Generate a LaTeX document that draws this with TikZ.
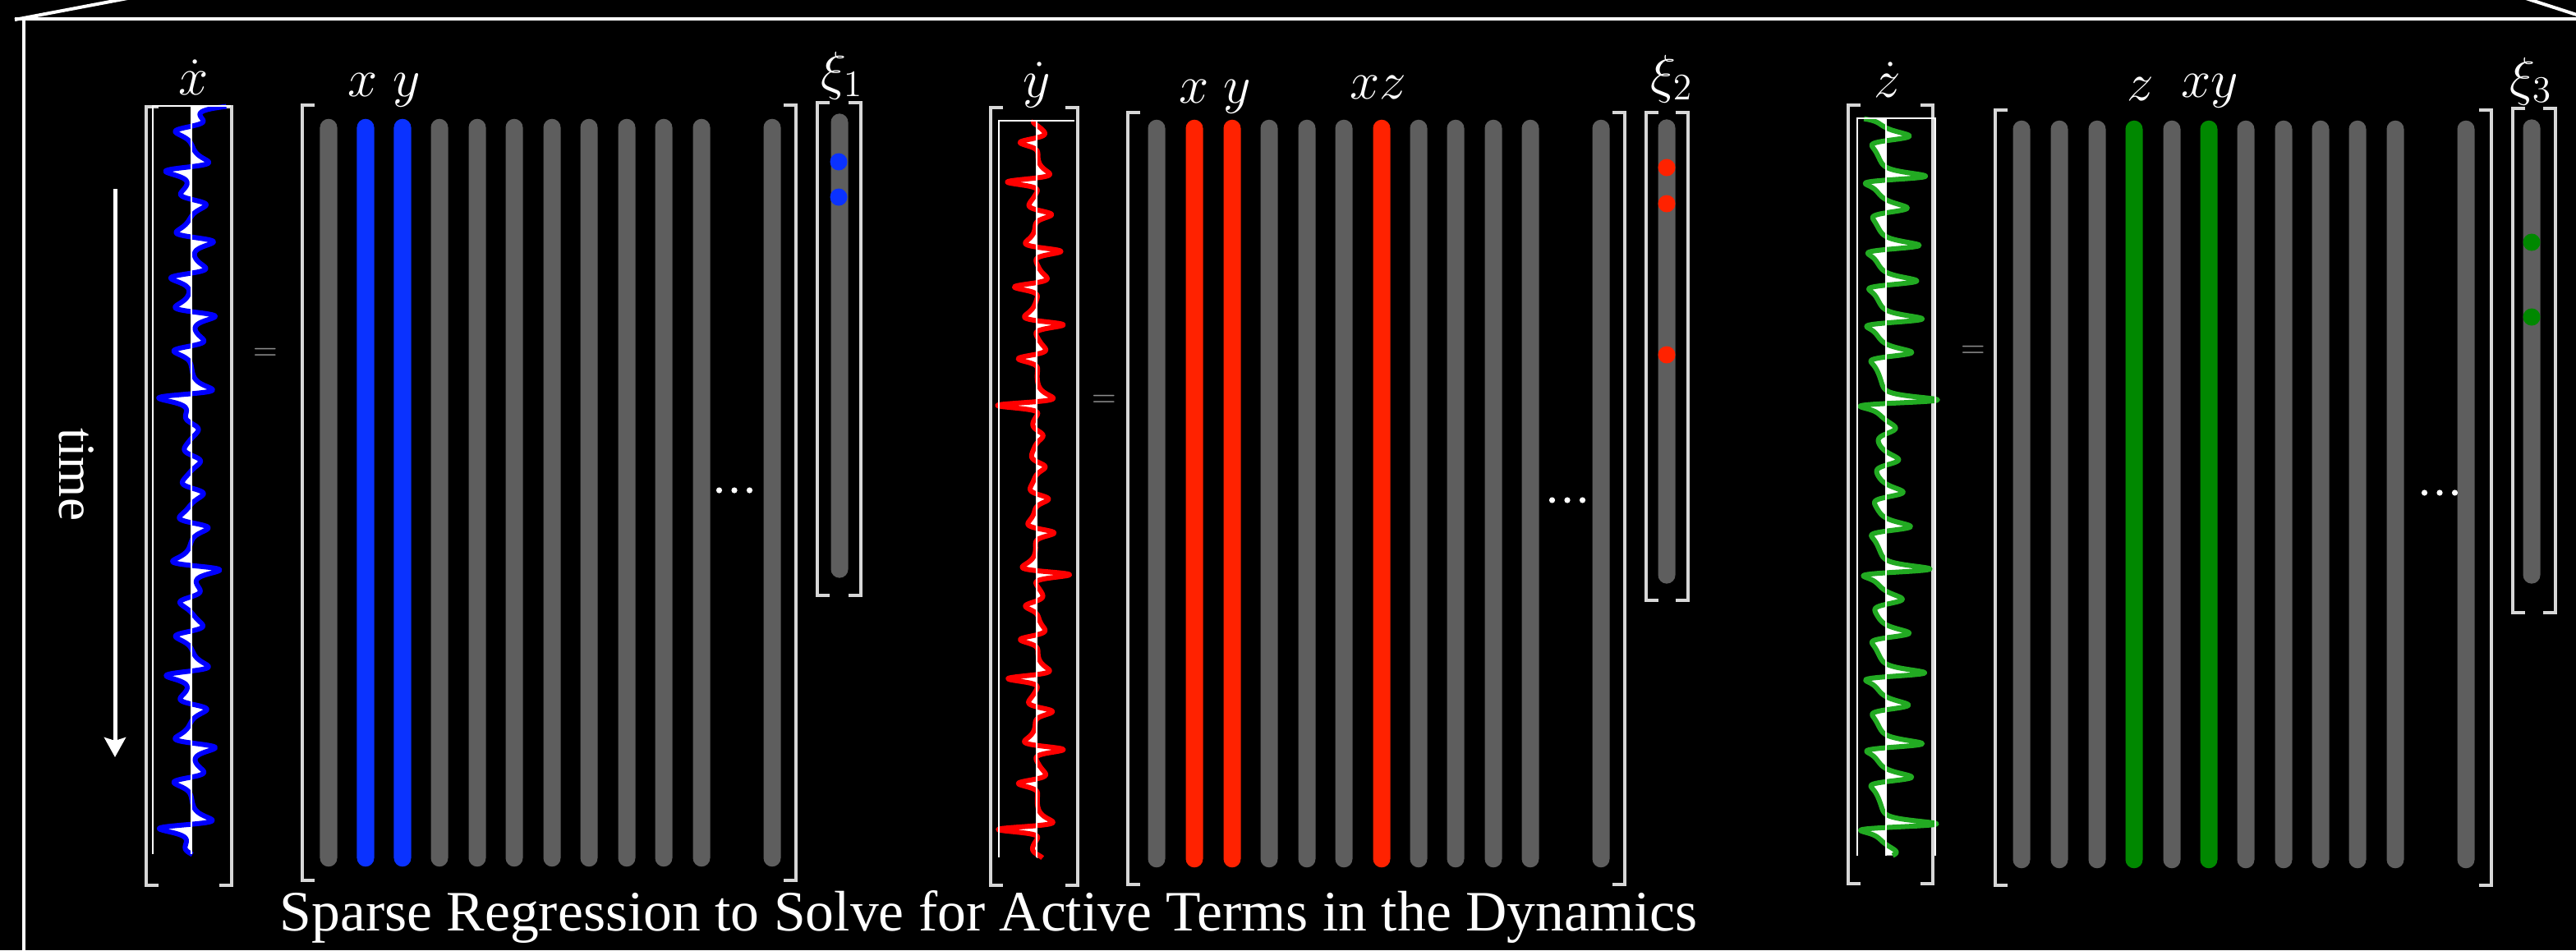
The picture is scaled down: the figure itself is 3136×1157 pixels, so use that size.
\documentclass[tikz,border=0pt]{standalone}
\usepackage{fix-cm}
\usepackage{amsmath}
\usepackage{amssymb}
\usepackage{fontspec}
\usepackage{tikz}
\usepackage{color}
\usetikzlibrary{calc,arrows.meta}
\newfontfamily\tikzSerif{Liberation Serif}
\definecolor{termgray}{RGB}{94,94,94}
\definecolor{termblue}{RGB}{10,50,255}
\definecolor{termred}{RGB}{255,34,0}
\definecolor{termgreen}{RGB}{0,136,0}
\definecolor{sigblue}{RGB}{0,0,255}
\definecolor{sigred}{RGB}{255,0,0}
\definecolor{siggreen}{RGB}{34,170,34}
\definecolor{brkgray}{RGB}{215,215,215}
\definecolor{eqgray}{RGB}{140,140,140}
\newcommand{\tikzBrackets}[1]{
  \draw[brk] ([xshift=0.15cm]#1.north west) -| (#1.south west) -- ++(15,0);
  \draw[brk] ([xshift=-0.15cm]#1.north east) -| (#1.south east) -- ++(-15,0);
}
\newcommand{\tikzSignal}[2]{
  \fill[white] (0,0) -- plot coordinates {#1} -- (0,3000) -- cycle;
  \draw[#2, line width=0.06cm, line join=round] plot coordinates {#1};
}
\newcommand{\tikzDots}[1]{
  \fill[white] (#1) circle[radius=0.036cm] +(-18.5,0) circle[radius=0.036cm] +(18.5,0) circle[radius=0.036cm];
}
% Lorenz run from (-8,8,27), Euler steps of 0.005
\def\lx{-8}\def\ly{8}\def\lz{27}
\gdef\xdotpts{}\gdef\ydotpts{}\gdef\zdotpts{}
\foreach \k in {1,...,3000}{
  \pgfmathsetmacro\vx{10*((\ly)-(\lx))}
  \pgfmathsetmacro\vy{(\lx)*(28-(\lz))-(\ly)}
  \pgfmathsetmacro\vz{(\lx)*(\ly)-2.66667*(\lz)}
  \pgfmathsetmacro\nx{(\lx)+0.005*(\vx)}
  \pgfmathsetmacro\ny{(\ly)+0.005*(\vy)}
  \pgfmathsetmacro\nz{(\lz)+0.005*(\vz)}
  \global\let\lx\nx\global\let\ly\ny\global\let\lz\nz
  \ifodd\k\relax\else
    \xdef\xdotpts{\xdotpts(\vx,\k)}
    \xdef\ydotpts{\ydotpts(\vy,\k)}
    \xdef\zdotpts{\zdotpts(\vz,\k)}
  \fi
}
\begin{document}
\begin{tikzpicture}[x=0.01cm, y=-0.01cm,
  term/.style={rectangle, rounded corners=0.105cm, inner sep=0pt, minimum width=0.21cm, minimum height=9.1cm, fill=termgray},
  coef/.style={term, minimum height=5.65cm},
  hit/.style={circle, inner sep=0pt, minimum size=0.21cm},
  vec/.style={rectangle, inner sep=0pt},
  brk/.style={draw=brkgray, line width=0.04cm},
  sym/.style={text=white, inner sep=0pt, anchor=base, font=\fontsize{18.5}{22}\selectfont},
  eq/.style={text=eqgray, inner sep=0pt, font=\fontsize{11}{13}\selectfont},
  boxline/.style={white, line width=0.04cm},
  axisline/.style={white, line width=0.012cm}]
  \useasboundingbox (0,0) rectangle (3136,1157);
  \fill[black] (0,0) rectangle (3136,1157);
  \draw[boxline] (18,24) -- (171,-5);
  \draw[boxline] (18,23) -- (3140,23);
  \draw[boxline] (29,23) -- (29,1160);
  \draw[boxline] (3075,-2) -- (3140,19);

  \node[text=white, rotate=-90, inner sep=0pt, font=\tikzSerif\fontsize{18}{20}\selectfont] (time) at (93,578) {time};
  \coordinate (tstart) at (140,230);
  \coordinate (tend) at (140,922);
  \draw[white, line width=0.05cm, -{Stealth[length=0.24cm,width=0.26cm,inset=0.04cm]}] (tstart) -- (tend);

  \node[vec, minimum width=1.02cm, minimum height=9.46cm] (xdot) at (230,604) {};
  \tikzBrackets{xdot}
  \begin{scope}[shift={(233,129)}, x=0.0028cm, y=-0.00303cm]
    \expandafter\tikzSignal\expandafter{\xdotpts}{sigblue}
  \end{scope}
  \draw[axisline] (186,1040) |- (281,129);
  \draw[axisline] (233,129) -- (233,1040);
  \node[sym] (lxdot) at (236,115) {$\dot{x}$};
  \node[eq] (eqx) at (323,431) {$=$};
  \node[vec, minimum width=5.99cm, minimum height=9.42cm] (thetax) at (668.5,600) {};
  \tikzBrackets{thetax}
  \node[term] (tx1) at (400,600) {};
  \node[term,fill=termblue] (tx2) at (445,600) {};
  \node[term,fill=termblue] (tx3) at (490,600) {};
  \node[term] (tx4) at (535,600) {};
  \node[term] (tx5) at (581,600) {};
  \node[term] (tx6) at (626,600) {};
  \node[term] (tx7) at (672,600) {};
  \node[term] (tx8) at (717,600) {};
  \node[term] (tx9) at (763,600) {};
  \node[term] (tx10) at (808,600) {};
  \node[term] (tx11) at (854,600) {};
  \node[term] (tx12) at (940,600) {};
  \coordinate (dotsx) at (894,597);
  \tikzDots{dotsx}
  \node[sym] (lx1) at (442,117) {$x$};
  \node[sym] (ly1) at (495,117) {$y$};
  \node[vec, minimum width=0.51cm, minimum height=5.98cm] (xione) at (1021.5,425) {};
  \tikzBrackets{xione}
  \node[coef] (cx) at (1022,421) {};
  \node[hit,fill=termblue] (ex1) at (1021,197) {};
  \node[hit,fill=termblue] (ex2) at (1021,240) {};
  \node[sym] (lxi1) at (1025,108) {$\xi_1$};

  \node[vec, minimum width=1.04cm, minimum height=9.45cm] (ydot) at (1259,604.5) {};
  \tikzBrackets{ydot}
  \begin{scope}[shift={(1262,147)}, x=0.0016cm, y=-0.00299cm]
    \expandafter\tikzSignal\expandafter{\ydotpts}{sigred}
  \end{scope}
  \draw[axisline] (1216,1044) |- (1308,147);
  \draw[axisline] (1262,147) -- (1262,1044);
  \node[sym] (lydot) at (1262,118) {$\dot{y}$};
  \node[eq] (eqy) at (1344,488) {$=$};
  \node[vec, minimum width=6.03cm, minimum height=9.38cm] (thetay) at (1675.5,607) {};
  \tikzBrackets{thetay}
  \node[term] (ty1) at (1408,601) {};
  \node[term,fill=termred] (ty2) at (1454,601) {};
  \node[term,fill=termred] (ty3) at (1500,601) {};
  \node[term] (ty4) at (1545,601) {};
  \node[term] (ty5) at (1591,601) {};
  \node[term] (ty6) at (1636,601) {};
  \node[term,fill=termred] (ty7) at (1682,601) {};
  \node[term] (ty8) at (1727,601) {};
  \node[term] (ty9) at (1772,601) {};
  \node[term] (ty10) at (1818,601) {};
  \node[term] (ty11) at (1863,601) {};
  \node[term] (ty12) at (1949,601) {};
  \coordinate (dotsy) at (1908,609);
  \tikzDots{dotsy}
  \node[sym] (lx2) at (1454,125) {$x$};
  \node[sym] (ly2) at (1506,125) {$y$};
  \node[sym] (lxz) at (1678,120) {$xz$};
  \node[vec, minimum width=0.49cm, minimum height=5.92cm] (xitwo) at (2029.5,434) {};
  \tikzBrackets{xitwo}
  \node[coef] (cy) at (2029,428) {};
  \node[hit,fill=termred] (ey1) at (2029,204) {};
  \node[hit,fill=termred] (ey2) at (2029,248) {};
  \node[hit,fill=termred] (ey3) at (2029,432) {};
  \node[sym] (lxi2) at (2035,112) {$\xi_2$};

  \node[vec, minimum width=1.01cm, minimum height=9.46cm] (zdot) at (2301.5,602) {};
  \tikzBrackets{zdot}
  \begin{scope}[shift={(2296,144)}, x=0.0021cm, y=-0.00299cm]
    \expandafter\tikzSignal\expandafter{\zdotpts}{siggreen}
  \end{scope}
  \draw[axisline] (2261,1042) |- (2356,144) -- (2356,1042);
  \draw[axisline] (2296,144) -- (2296,1042);
  \node[sym] (lzdot) at (2298,118) {$\dot{z}$};
  \node[eq] (eqz) at (2402,428) {$=$};
  \node[vec, minimum width=6.02cm, minimum height=9.42cm] (thetaz) at (2731,606) {};
  \tikzBrackets{thetaz}
  \node[term] (tz1) at (2461,602) {};
  \node[term] (tz2) at (2507,602) {};
  \node[term] (tz3) at (2553,602) {};
  \node[term,fill=termgreen] (tz4) at (2598,602) {};
  \node[term] (tz5) at (2644,602) {};
  \node[term,fill=termgreen] (tz6) at (2689,602) {};
  \node[term] (tz7) at (2734,602) {};
  \node[term] (tz8) at (2780,602) {};
  \node[term] (tz9) at (2825,602) {};
  \node[term] (tz10) at (2870,602) {};
  \node[term] (tz11) at (2916,602) {};
  \node[term] (tz12) at (3002,602) {};
  \coordinate (dotsz) at (2970,600);
  \tikzDots{dotsz}
  \node[sym] (lz3) at (2606,122) {$z$};
  \node[sym] (lxy) at (2690,118) {$xy$};
  \node[vec, minimum width=0.50cm, minimum height=6.12cm] (xithree) at (3085,439) {};
  \tikzBrackets{xithree}
  \node[coef] (cz) at (3082,428) {};
  \node[hit,fill=termgreen] (ez1) at (3082,295) {};
  \node[hit,fill=termgreen] (ez2) at (3082,386) {};
  \node[sym] (lxi3) at (3081,115) {$\xi_3$};

  \node[anchor=base west, text=white, inner sep=0pt, font=\tikzSerif\fontsize{19.8}{22}\selectfont] (caption) at (340,1133) {Sparse Regression to Solve for Active Terms in the Dynamics};
\end{tikzpicture}
\end{document}
